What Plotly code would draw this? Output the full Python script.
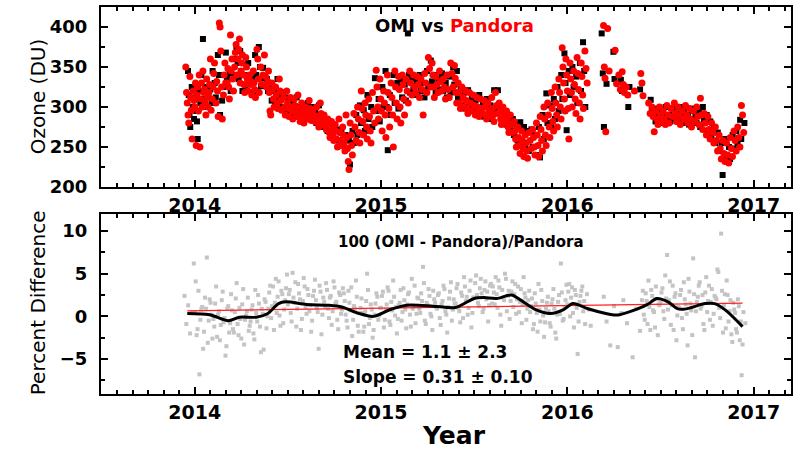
import plotly.graph_objects as go

# ---------------- data ----------------
pandora_t = [
 2013.952, 2013.956, 2013.960, 2013.964, 2013.968,
 2013.974, 2013.978, 2013.982, 2013.986,
 2013.992, 2013.996, 2014.000, 2014.004, 2014.008,
 2014.012, 2014.016, 2014.020, 2014.024, 2014.028,
 2014.032, 2014.036, 2014.040, 2014.044, 2014.048,
 2014.052, 2014.056, 2014.060, 2014.064, 2014.068,
 2014.072, 2014.076, 2014.080, 2014.084, 2014.088,
 2014.094, 2014.098, 2014.102, 2014.106,
 2014.114, 2014.118, 2014.122, 2014.126,
 2014.132, 2014.136, 2014.140, 2014.144, 2014.148,
 2014.154, 2014.158, 2014.162, 2014.166,
 2014.174, 2014.178, 2014.182, 2014.186,
 2014.192, 2014.196, 2014.200, 2014.204, 2014.208,
 2014.214, 2014.218, 2014.222, 2014.226,
 2014.232, 2014.236, 2014.240, 2014.244, 2014.248,
 2014.252, 2014.256, 2014.260, 2014.264, 2014.268,
 2014.274, 2014.278, 2014.282, 2014.286,
 2014.294, 2014.298, 2014.302, 2014.306,
 2014.314, 2014.318, 2014.322, 2014.326,
 2014.334, 2014.338, 2014.342, 2014.346,
 2014.354, 2014.360, 2014.366,
 2014.374, 2014.380, 2014.386,
 2014.392, 2014.396, 2014.400, 2014.404, 2014.408,
 2014.414, 2014.418, 2014.422, 2014.426,
 2014.434, 2014.438, 2014.442, 2014.446,
 2014.454, 2014.458, 2014.462, 2014.466,
 2014.474, 2014.478, 2014.482, 2014.486,
 2014.494, 2014.498, 2014.502, 2014.506,
 2014.514, 2014.518, 2014.522, 2014.526,
 2014.534, 2014.538, 2014.542, 2014.546,
 2014.554, 2014.558, 2014.562, 2014.566,
 2014.574, 2014.578, 2014.582, 2014.586,
 2014.594, 2014.600, 2014.606,
 2014.614, 2014.618, 2014.622, 2014.626,
 2014.634, 2014.640, 2014.646,
 2014.654, 2014.658, 2014.662, 2014.666,
 2014.674, 2014.678, 2014.682, 2014.686,
 2014.694, 2014.700, 2014.706,
 2014.714, 2014.718, 2014.722, 2014.726,
 2014.734, 2014.738, 2014.742, 2014.746,
 2014.754, 2014.758, 2014.762, 2014.766,
 2014.774, 2014.778, 2014.782, 2014.786,
 2014.794, 2014.798, 2014.802, 2014.806,
 2014.812, 2014.816, 2014.820, 2014.824, 2014.828,
 2014.834, 2014.838, 2014.842, 2014.846,
 2014.854, 2014.860, 2014.866,
 2014.874, 2014.878, 2014.882, 2014.886,
 2014.894, 2014.898, 2014.902, 2014.906,
 2014.914, 2014.918, 2014.922, 2014.926,
 2014.934, 2014.938, 2014.942, 2014.946,
 2014.954, 2014.960, 2014.966,
 2014.974, 2014.978, 2014.982, 2014.986,
 2014.994, 2014.998, 2015.002, 2015.006,
 2015.014, 2015.018, 2015.022, 2015.026,
 2015.034, 2015.038, 2015.042, 2015.046,
 2015.054, 2015.058, 2015.062, 2015.066,
 2015.074, 2015.078, 2015.082, 2015.086,
 2015.094, 2015.098, 2015.102, 2015.106,
 2015.114, 2015.118, 2015.122, 2015.126,
 2015.134, 2015.140, 2015.146,
 2015.154, 2015.160, 2015.166,
 2015.174, 2015.180, 2015.186,
 2015.194, 2015.200, 2015.206,
 2015.214, 2015.220, 2015.226,
 2015.234, 2015.240, 2015.246,
 2015.254, 2015.260, 2015.266,
 2015.274, 2015.278, 2015.282, 2015.286,
 2015.294, 2015.300, 2015.306,
 2015.314, 2015.320, 2015.326,
 2015.334, 2015.340, 2015.346,
 2015.354, 2015.360, 2015.366,
 2015.374, 2015.380, 2015.386,
 2015.394, 2015.398, 2015.402, 2015.406,
 2015.414, 2015.418, 2015.422, 2015.426,
 2015.434, 2015.440, 2015.446,
 2015.454, 2015.458, 2015.462, 2015.466,
 2015.474, 2015.480, 2015.486,
 2015.494, 2015.500, 2015.506,
 2015.514, 2015.518, 2015.522, 2015.526,
 2015.534, 2015.540, 2015.546,
 2015.554, 2015.558, 2015.562, 2015.566,
 2015.574, 2015.580, 2015.586,
 2015.594, 2015.598, 2015.602, 2015.606,
 2015.614, 2015.620, 2015.626,
 2015.634, 2015.638, 2015.642, 2015.646,
 2015.654, 2015.660, 2015.666,
 2015.674, 2015.678, 2015.682, 2015.686,
 2015.694, 2015.700, 2015.706,
 2015.714, 2015.718, 2015.722, 2015.726,
 2015.734, 2015.738, 2015.742, 2015.746,
 2015.754, 2015.758, 2015.762, 2015.766,
 2015.774, 2015.778, 2015.782, 2015.786,
 2015.794, 2015.800, 2015.806,
 2015.814, 2015.818, 2015.822, 2015.826,
 2015.834, 2015.838, 2015.842, 2015.846,
 2015.854, 2015.858, 2015.862, 2015.866,
 2015.874, 2015.878, 2015.882, 2015.886,
 2015.894, 2015.898, 2015.902, 2015.906,
 2015.914, 2015.918, 2015.922, 2015.926,
 2015.934, 2015.938, 2015.942, 2015.946,
 2015.954, 2015.958, 2015.962, 2015.966,
 2015.972, 2015.976, 2015.980, 2015.984, 2015.988,
 2015.992, 2015.996, 2016.000, 2016.004, 2016.008,
 2016.014, 2016.018, 2016.022, 2016.026,
 2016.034, 2016.038, 2016.042, 2016.046,
 2016.052, 2016.056, 2016.060, 2016.064, 2016.068,
 2016.074, 2016.078, 2016.082, 2016.086,
 2016.094, 2016.100, 2016.106,
 2016.194, 2016.198, 2016.202, 2016.206,
 2016.216, 2016.224,
 2016.256, 2016.264,
 2016.276, 2016.284,
 2016.294, 2016.300, 2016.306,
 2016.316, 2016.324,
 2016.360,
 2016.394, 2016.400, 2016.406,
 2016.436, 2016.444,
 2016.454, 2016.460, 2016.466,
 2016.474, 2016.480, 2016.486,
 2016.494, 2016.500, 2016.506,
 2016.514, 2016.520, 2016.526,
 2016.534, 2016.540, 2016.546,
 2016.556, 2016.564,
 2016.574, 2016.580, 2016.586,
 2016.594, 2016.600, 2016.606,
 2016.616, 2016.624,
 2016.634, 2016.640, 2016.646,
 2016.654, 2016.660, 2016.666,
 2016.676, 2016.684,
 2016.694, 2016.700, 2016.706,
 2016.714, 2016.720, 2016.726,
 2016.734, 2016.740, 2016.746,
 2016.754, 2016.760, 2016.766,
 2016.774, 2016.780, 2016.786,
 2016.794, 2016.800, 2016.806,
 2016.814, 2016.820, 2016.826,
 2016.834, 2016.840, 2016.846,
 2016.854, 2016.860, 2016.866,
 2016.874, 2016.880, 2016.886,
 2016.894, 2016.900, 2016.906,
 2016.914, 2016.920, 2016.926,
 2016.934, 2016.940, 2016.946,
]
pandora_du = [
 350, 318, 305, 290, 280,
 338, 312, 296, 260,
 320, 308, 300, 330, 252,
 315, 325, 295, 340, 250,
 310, 330, 300, 345, 318,
 322, 305, 290, 335, 312,
 300, 318, 328, 360, 296,
 310, 325, 342, 355,
 305, 332, 320, 288,
 405, 400, 370, 325, 285,
 315, 340, 355, 330,
 330, 348, 325, 310,
 390, 345, 360, 335, 320,
 350, 368, 378, 340,
 360, 372, 385, 330, 345,
 355, 365, 340, 328, 318,
 362, 350, 335, 320,
 340, 328, 332, 315,
 345, 330, 322, 312,
 372, 360, 335, 318,
 350, 328, 340,
 365, 338, 325,
 332, 345, 318, 295, 290,
 330, 322, 310, 300,
 325, 315, 305, 298,
 335, 320, 308, 296,
 318, 312, 300, 290,
 320, 305, 298, 288,
 312, 300, 295, 285,
 310, 302, 292, 288,
 315, 298, 290, 282,
 305, 296, 288, 280,
 300, 292, 285,
 308, 298, 290, 283,
 296, 290, 282,
 300, 288, 280, 275,
 305, 292, 285, 278,
 290, 282, 272,
 285, 278, 268, 262,
 282, 272, 265, 258,
 278, 270, 260, 250,
 285, 268, 258, 252,
 275, 265, 255, 245,
 290, 262, 248, 232, 222,
 280, 265, 252, 240,
 292, 275, 258,
 300, 285, 268, 255,
 320, 298, 282, 265,
 305, 290, 275, 260,
 310, 288, 270, 255,
 318, 295, 280,
 346, 325, 300, 285,
 335, 310, 295, 270,
 320, 305, 290, 262,
 340, 318, 298, 275,
 330, 312, 290, 250,
 345, 325, 305, 285,
 338, 322, 300, 280,
 340, 328, 310, 290,
 335, 320, 305,
 345, 330, 315,
 340, 325, 318,
 338, 328, 312,
 335, 322, 290,
 342, 330, 318,
 362, 348, 325,
 355, 340, 325, 312,
 338, 328, 318,
 345, 332, 320,
 335, 325, 310,
 340, 322, 312,
 355, 342, 325,
 352, 336, 318, 305,
 330, 318, 305, 298,
 325, 312, 300,
 320, 308, 298, 292,
 318, 305, 295,
 315, 302, 290,
 312, 300, 295, 288,
 310, 298, 292,
 308, 300, 290, 285,
 305, 296, 288,
 312, 298, 290, 282,
 318, 302, 292,
 305, 295, 285, 278,
 300, 290, 280,
 295, 285, 275, 268,
 290, 278, 268,
 282, 270, 260, 250,
 275, 262, 252, 242,
 270, 258, 248, 238,
 265, 255, 245, 236,
 268, 258, 248,
 272, 262, 250, 240,
 280, 265, 252, 238,
 288, 272, 258, 245,
 300, 285, 265, 252,
 305, 290, 275, 262,
 318, 298, 282, 270,
 325, 305, 290, 275,
 335, 318, 300, 285,
 374, 350, 330, 310, 295,
 360, 340, 320, 298, 260,
 355, 335, 318, 300,
 345, 328, 310, 292,
 362, 342, 322, 305, 285,
 355, 338, 315, 298,
 370, 348, 330,
 402, 350, 336, 269,
 398, 345,
 371, 329,
 340, 322,
 344, 328, 318,
 325, 315,
 320,
 342, 330, 314,
 305, 292,
 300, 288, 269,
 295, 285, 278,
 300, 290, 282,
 295, 285, 278,
 302, 290, 280,
 298, 288,
 305, 292, 282,
 300, 288, 278,
 295, 285,
 302, 290, 280,
 298, 285, 275,
 295, 282,
 300, 288, 278,
 311, 290, 272,
 292, 280, 265,
 288, 272, 260,
 280, 268, 255,
 275, 258, 245,
 265, 248, 235,
 258, 242, 232,
 255, 240, 230,
 262, 248, 238,
 270, 258, 245,
 275, 262, 250,
 302, 290, 268,
]

omi_t = [
 2013.964, 2013.968, 2013.972, 2013.976,
 2013.984, 2013.990, 2013.996,
 2014.004, 2014.008, 2014.012, 2014.016,
 2014.024, 2014.030, 2014.036,
 2014.044, 2014.050, 2014.056,
 2014.067, 2014.073,
 2014.084, 2014.090, 2014.096,
 2014.107, 2014.113,
 2014.124, 2014.130, 2014.136,
 2014.147, 2014.153,
 2014.167, 2014.173,
 2014.187, 2014.193,
 2014.207, 2014.213,
 2014.224, 2014.230, 2014.236,
 2014.244, 2014.250, 2014.256,
 2014.267, 2014.273,
 2014.287, 2014.293,
 2014.307, 2014.313,
 2014.324, 2014.330, 2014.336,
 2014.344, 2014.350, 2014.356,
 2014.367, 2014.373,
 2014.387, 2014.393,
 2014.407, 2014.413,
 2014.427, 2014.433,
 2014.444, 2014.450, 2014.456,
 2014.467, 2014.473,
 2014.487, 2014.493,
 2014.507, 2014.513,
 2014.527, 2014.533,
 2014.547, 2014.553,
 2014.567, 2014.573,
 2014.587, 2014.593,
 2014.607, 2014.613,
 2014.627, 2014.633,
 2014.647, 2014.653,
 2014.667, 2014.673,
 2014.687, 2014.693,
 2014.707, 2014.713,
 2014.727, 2014.733,
 2014.747, 2014.753,
 2014.767, 2014.773,
 2014.787, 2014.793,
 2014.807, 2014.813,
 2014.827, 2014.833,
 2014.847, 2014.853,
 2014.867, 2014.873,
 2014.887, 2014.893,
 2014.907, 2014.913,
 2014.927, 2014.933,
 2014.947, 2014.953,
 2014.967, 2014.973,
 2014.987, 2014.993,
 2015.007, 2015.013,
 2015.024, 2015.030, 2015.036,
 2015.047, 2015.053,
 2015.067, 2015.073,
 2015.087, 2015.093,
 2015.107, 2015.113,
 2015.127, 2015.133,
 2015.144, 2015.150, 2015.156,
 2015.167, 2015.173,
 2015.187, 2015.193,
 2015.207, 2015.213,
 2015.227, 2015.233,
 2015.247, 2015.253,
 2015.267, 2015.273,
 2015.287, 2015.293,
 2015.307, 2015.313,
 2015.327, 2015.333,
 2015.347, 2015.353,
 2015.367, 2015.373,
 2015.387, 2015.393,
 2015.407, 2015.413,
 2015.427, 2015.433,
 2015.447, 2015.453,
 2015.467, 2015.473,
 2015.487, 2015.493,
 2015.507, 2015.513,
 2015.527, 2015.533,
 2015.547, 2015.553,
 2015.567, 2015.573,
 2015.587, 2015.593,
 2015.607, 2015.613,
 2015.627, 2015.633,
 2015.647, 2015.653,
 2015.667, 2015.673,
 2015.687, 2015.693,
 2015.707, 2015.713,
 2015.727, 2015.733,
 2015.747, 2015.753,
 2015.767, 2015.773,
 2015.787, 2015.793,
 2015.807, 2015.813,
 2015.827, 2015.833,
 2015.847, 2015.853,
 2015.867, 2015.873,
 2015.887, 2015.893,
 2015.907, 2015.913,
 2015.927, 2015.933,
 2015.947, 2015.953,
 2015.967, 2015.973,
 2015.984, 2015.990, 2015.996,
 2016.007, 2016.013,
 2016.027, 2016.033,
 2016.047, 2016.053,
 2016.067, 2016.073,
 2016.084, 2016.090, 2016.096,
 2016.184, 2016.190, 2016.196,
 2016.210,
 2016.247, 2016.253,
 2016.287, 2016.293,
 2016.327, 2016.333,
 2016.390,
 2016.447, 2016.453,
 2016.467, 2016.473,
 2016.487, 2016.493,
 2016.507, 2016.513,
 2016.527, 2016.533,
 2016.547, 2016.553,
 2016.567, 2016.573,
 2016.587, 2016.593,
 2016.607, 2016.613,
 2016.627, 2016.633,
 2016.647, 2016.653,
 2016.667, 2016.673,
 2016.687, 2016.693,
 2016.707, 2016.713,
 2016.727, 2016.733,
 2016.747, 2016.753,
 2016.767, 2016.773,
 2016.787, 2016.793,
 2016.807, 2016.813,
 2016.827, 2016.833,
 2016.847, 2016.853,
 2016.867, 2016.873,
 2016.887, 2016.893,
 2016.907, 2016.913,
 2016.927, 2016.933,
 2016.950,
]
omi_du = [
 345, 315, 290, 275,
 325, 300, 285,
 312, 295, 282, 260,
 320, 305, 340,
 385, 310, 325,
 300, 315,
 322, 305, 345,
 330, 312,
 365, 340, 290,
 308, 325,
 368, 335,
 342, 320,
 360, 340,
 372, 355, 335,
 370, 345, 320,
 340, 322,
 355, 330,
 335, 318,
 365, 340, 320,
 375, 350, 326,
 349, 336,
 335, 320,
 325, 308,
 320, 305,
 335, 312, 298,
 315, 300,
 312, 295,
 308, 298,
 305, 292,
 312, 295,
 300, 290,
 298, 288,
 305, 285,
 300, 288,
 295, 280,
 302, 288,
 290, 275,
 285, 270,
 280, 265,
 275, 260,
 272, 258,
 268, 252,
 265, 248,
 258, 228,
 270, 255,
 290, 265,
 302, 280,
 296, 270,
 315, 285,
 300, 275,
 336, 295,
 310, 282,
 325, 300,
 345, 300, 246,
 315, 290,
 340, 305,
 330, 298,
 335, 312,
 328, 308,
 392, 340, 318,
 335, 322,
 332, 315,
 340, 320,
 330, 312,
 345, 325,
 358, 332,
 340, 318,
 335, 322,
 342, 320,
 330, 312,
 338, 318,
 350, 328,
 345, 312,
 325, 302,
 318, 298,
 321, 300,
 312, 295,
 308, 292,
 315, 298,
 305, 288,
 310, 290,
 302, 285,
 321, 295,
 321, 298,
 300, 282,
 295, 278,
 288, 272,
 285, 265,
 278, 258,
 281, 252,
 275, 248,
 270, 245,
 272, 250,
 265, 240,
 275, 237,
 290, 260,
 317, 280,
 302, 275,
 310, 285,
 325, 295,
 340, 310,
 367, 330, 271,
 345, 315,
 350, 325,
 338, 305,
 355, 320,
 381, 345, 300,
 392, 342, 275,
 329,
 369, 335,
 334, 320,
 300, 325,
 322,
 309, 295,
 290, 282,
 298, 288,
 292, 280,
 300, 287,
 290, 282,
 298, 285,
 292, 282,
 300, 288,
 295, 280,
 290, 278,
 298, 285,
 292, 280,
 295, 275,
 300, 285,
 290, 270,
 282, 262,
 275, 255,
 268, 245,
 255, 215,
 260, 238,
 250, 235,
 265, 248,
 270, 255,
 284, 260,
 280,
]

diff_t = [
 2013.945, 2013.955, 2013.965, 2013.975, 2013.985, 2013.995,
 2014.005, 2014.015, 2014.025, 2014.035, 2014.045, 2014.055, 2014.065, 2014.075, 2014.085, 2014.095,
 2014.105, 2014.115, 2014.125, 2014.135, 2014.145, 2014.155, 2014.165, 2014.175, 2014.185, 2014.195,
 2014.205, 2014.215, 2014.225, 2014.235, 2014.245, 2014.255, 2014.265, 2014.275, 2014.285, 2014.295,
 2014.305, 2014.315, 2014.325, 2014.335, 2014.345, 2014.355, 2014.365, 2014.375, 2014.385, 2014.395,
 2014.405, 2014.415, 2014.425, 2014.435, 2014.445, 2014.455, 2014.465, 2014.475, 2014.485, 2014.495,
 2014.505, 2014.515, 2014.525, 2014.535, 2014.545, 2014.555, 2014.565, 2014.575, 2014.585, 2014.595,
 2014.605, 2014.615, 2014.625, 2014.635, 2014.645, 2014.655, 2014.665, 2014.675, 2014.685, 2014.695,
 2014.705, 2014.715, 2014.725, 2014.735, 2014.745, 2014.755, 2014.765, 2014.775, 2014.785, 2014.795,
 2014.805, 2014.815, 2014.825, 2014.835, 2014.845, 2014.855, 2014.865, 2014.875, 2014.885, 2014.895,
 2014.905, 2014.915, 2014.925, 2014.935, 2014.945, 2014.955, 2014.965, 2014.975, 2014.985, 2014.995,
 2015.005, 2015.015, 2015.025, 2015.035, 2015.045, 2015.055, 2015.065, 2015.075, 2015.085, 2015.095,
 2015.105, 2015.115, 2015.125, 2015.135, 2015.145, 2015.155, 2015.165, 2015.175, 2015.185, 2015.195,
 2015.205, 2015.215, 2015.225, 2015.235, 2015.245, 2015.255, 2015.265, 2015.275, 2015.285, 2015.295,
 2015.305, 2015.315, 2015.325, 2015.335, 2015.345, 2015.355, 2015.365, 2015.375, 2015.385, 2015.395,
 2015.405, 2015.415, 2015.425, 2015.435, 2015.445, 2015.455, 2015.465, 2015.475, 2015.485, 2015.495,
 2015.505, 2015.515, 2015.525, 2015.535, 2015.545, 2015.555, 2015.565, 2015.575, 2015.585, 2015.595,
 2015.605, 2015.615, 2015.625, 2015.635, 2015.645, 2015.655, 2015.665, 2015.675, 2015.685, 2015.695,
 2015.705, 2015.715, 2015.725, 2015.735, 2015.745, 2015.755, 2015.765, 2015.775, 2015.785, 2015.795,
 2015.805, 2015.815, 2015.825, 2015.835, 2015.845, 2015.855, 2015.865, 2015.875, 2015.885, 2015.895,
 2015.905, 2015.915, 2015.925, 2015.935, 2015.945, 2015.955, 2015.965, 2015.975, 2015.985, 2015.995,
 2016.005, 2016.015, 2016.025, 2016.035, 2016.045, 2016.055, 2016.065, 2016.075, 2016.085, 2016.095,
 2016.105, 2016.115, 2016.125,
 2016.195, 2016.210, 2016.230, 2016.250, 2016.270, 2016.290,
 2016.300, 2016.320, 2016.350, 2016.370, 2016.390,
 2016.405, 2016.415, 2016.425, 2016.435, 2016.445, 2016.455, 2016.465, 2016.475, 2016.485, 2016.495,
 2016.505, 2016.515, 2016.525, 2016.535, 2016.545, 2016.555, 2016.565, 2016.575, 2016.585, 2016.595,
 2016.605, 2016.615, 2016.625, 2016.635, 2016.645, 2016.655, 2016.665, 2016.675, 2016.685, 2016.695,
 2016.705, 2016.715, 2016.725, 2016.735, 2016.745, 2016.755, 2016.765, 2016.775, 2016.785, 2016.795,
 2016.805, 2016.815, 2016.825, 2016.835, 2016.845, 2016.855, 2016.865, 2016.875, 2016.885, 2016.895,
 2016.905, 2016.915, 2016.925, 2016.935, 2016.945, 2016.955,
]
diff_v = [
 2.4, -0.9, 1.3, -2.0, 0.4, 6.2,
 4.1, -1.5, -6.8, 0.8, -3.8, 2.2, 6.9, -0.5, 1.6, -2.6,
 -1.2, 3.5, 0.2, -2.8, 1.9, -0.7, -4.6, 0.9, -1.9, 2.6,
 -1.5, 0.5, 3.9, -2.2, -0.3, 1.4, -3.3, 0.1, 2.2, -1.1,
 0.8, -2.0, 3.1, -0.6, 1.5, -4.2, 0.3, 2.0, -1.4, 0.9,
 3.6, 1.2, -1.6, 4.4, 2.3, 0.1, 3.0, -0.8, 1.9, 4.9,
 2.6, 0.4, 5.1, 1.6, -1.2, 3.8, 2.0, -0.3, 4.5, 1.1,
 3.2, 0.6, -1.8, 2.4, 4.3, 1.0, -3.8, 2.9, 0.2, 1.7,
 3.9, 0.9, 2.2, -1.0, 4.1, 1.5, -0.4, 2.8, 0.3, 3.3,
 1.8, -0.5, 3.0, 0.7, -2.3, 1.2, 4.2, -1.1, 0.4, 2.1,
 -1.8, 0.6, 5.0, -0.9, 1.4, -2.5, 0.2, 2.7, -0.4, 1.0,
 2.4, -1.3, 0.8, 3.4, -0.6, 1.7, 4.2, 0.1, -2.0, 1.3,
 3.1, 0.5, 1.9, -1.4, 2.6, 0.2, 4.4, 1.2, -0.8, 2.2,
 0.9, 2.7, 5.8, -0.5, 1.6, 3.2, 0.3, -1.6, 2.0, 1.1,
 2.5, -0.2, 1.4, 3.6, 0.6, -1.9, 2.1, 4.0, 0.8, 1.5,
 3.3, 1.0, -0.7, 2.4, 4.6, 1.8, 0.2, 3.0, -1.3, 2.2,
 3.9, 2.5, 1.2, 4.4, 0.5, 3.1, 2.0, -0.6, 3.6, 1.5,
 2.8, 4.6, 1.0, 3.4, -1.1, 2.2, 5.0, 0.6, 3.0, 1.8,
 4.1, 2.6, 0.3, 3.5, 1.7, -0.8, 4.6, 2.2, 0.9, 3.0,
 1.2, -1.5, 2.7, 0.4, 3.8, -0.6, 1.8, -2.4, 0.9, 2.3,
 -0.8, 1.5, 3.2, -1.9, 0.2, 2.5, 6.2, -0.5, 1.1, 3.7,
 2.9, 0.0, 3.4, -1.3, 2.5, -4.4, 1.7, 3.0, 0.6, -0.9,
 2.6, 0.8, -1.1,
 2.3, -0.6, -3.4, 1.2, -3.6, 0.4,
 1.9, -0.8, -4.8, 0.9, -1.7,
 3.0, -0.4, 1.8, 4.2, -1.6, 2.4, 0.5, 3.5, -2.2, 1.3,
 2.8, 0.6, 4.8, 7.2, 1.9, -1.0, 3.6, 2.3, -2.8, 1.1,
 2.5, -0.2, 4.0, 1.4, -3.4, 2.9, 0.7, 6.8, -4.8, 1.7,
 3.6, 0.9, 2.5, -1.6, 4.6, 1.8, -0.4, 3.2, 0.3, 2.2,
 5.5, 1.0, 9.7, -1.9, 2.6, 4.2, -0.6, 1.9, -3.0, 0.8,
 -1.5, 2.0, -2.8, -6.9, 0.5, -0.8,
]

# second batch of difference points (denser sampling)
diff_t2 = [
 2014.000, 2014.010, 2014.020, 2014.030, 2014.040, 2014.050, 2014.060, 2014.070, 2014.080, 2014.090,
 2014.100, 2014.110, 2014.120, 2014.130, 2014.140, 2014.150, 2014.160, 2014.170, 2014.180, 2014.190,
 2014.200, 2014.210, 2014.220, 2014.230, 2014.240, 2014.250, 2014.260, 2014.270, 2014.280, 2014.290,
 2014.300, 2014.310, 2014.320, 2014.330, 2014.340, 2014.350, 2014.360, 2014.370, 2014.380, 2014.390,
 2014.400, 2014.410, 2014.420, 2014.430, 2014.440, 2014.450, 2014.460, 2014.470, 2014.480, 2014.490,
 2014.500, 2014.510, 2014.520, 2014.530, 2014.540, 2014.550, 2014.560, 2014.570, 2014.580, 2014.590,
 2014.600, 2014.610, 2014.620, 2014.630, 2014.640, 2014.650, 2014.660, 2014.670, 2014.680, 2014.690,
 2014.700, 2014.710, 2014.720, 2014.730, 2014.740, 2014.750, 2014.760, 2014.770, 2014.780, 2014.790,
 2014.800, 2014.810, 2014.820, 2014.830, 2014.840, 2014.850, 2014.860, 2014.870, 2014.880, 2014.890,
 2014.900, 2014.910, 2014.920, 2014.930, 2014.940, 2014.950, 2014.960, 2014.970, 2014.980, 2014.990,
 2015.000, 2015.010, 2015.020, 2015.030, 2015.040, 2015.050, 2015.060, 2015.070, 2015.080, 2015.090,
 2015.100, 2015.110, 2015.120, 2015.130, 2015.140, 2015.150, 2015.160, 2015.170, 2015.180, 2015.190,
 2015.200, 2015.210, 2015.220, 2015.230, 2015.240, 2015.250, 2015.260, 2015.270, 2015.280, 2015.290,
 2015.300, 2015.310, 2015.320, 2015.330, 2015.340, 2015.350, 2015.360, 2015.370, 2015.380, 2015.390,
 2015.400, 2015.410, 2015.420, 2015.430, 2015.440, 2015.450, 2015.460, 2015.470, 2015.480, 2015.490,
 2015.500, 2015.510, 2015.520, 2015.530, 2015.540, 2015.550, 2015.560, 2015.570, 2015.580, 2015.590,
 2015.600, 2015.610, 2015.620, 2015.630, 2015.640, 2015.650, 2015.660, 2015.670, 2015.680, 2015.690,
 2015.700, 2015.710, 2015.720, 2015.730, 2015.740, 2015.750, 2015.760, 2015.770, 2015.780, 2015.790,
 2015.800, 2015.810, 2015.820, 2015.830, 2015.840, 2015.850, 2015.860, 2015.870, 2015.880, 2015.890,
 2015.900, 2015.910, 2015.920, 2015.930, 2015.940, 2015.950, 2015.960, 2015.970, 2015.980, 2015.990,
 2016.000, 2016.010, 2016.020, 2016.030, 2016.040, 2016.050, 2016.060, 2016.070, 2016.080, 2016.090,
 2016.400, 2016.410, 2016.420, 2016.430, 2016.440, 2016.450, 2016.460, 2016.470, 2016.480, 2016.490,
 2016.500, 2016.510, 2016.520, 2016.530, 2016.540, 2016.550, 2016.560, 2016.570, 2016.580, 2016.590,
 2016.600, 2016.610, 2016.620, 2016.630, 2016.640, 2016.650, 2016.660, 2016.670, 2016.680, 2016.690,
 2016.700, 2016.710, 2016.720, 2016.730, 2016.740, 2016.750, 2016.760, 2016.770, 2016.780, 2016.790,
 2016.800, 2016.810, 2016.820, 2016.830, 2016.840, 2016.850, 2016.860, 2016.870, 2016.880, 2016.890,
 2016.900, 2016.910, 2016.920, 2016.930, 2016.940,
]
diff_v2 = [
 0.5, -2.2, 3.0, -0.4, 1.1, -1.8, 0.9, -3.1, 2.0, 0.2,
 -0.3, 1.5, -2.4, 0.6, -1.0, 2.9, -0.2, -3.5, 1.2, -0.8,
 0.7, -1.9, 2.1, -0.9, 1.0, -2.6, 3.2, -0.4, 0.6, -1.7,
 -0.6, 1.3, -2.7, 0.4, 2.5, -1.2, 0.9, -3.9, 1.7, 0.0,
 2.8, -0.2, 3.5, 1.6, 0.4, 4.1, -1.1, 2.6, 0.8, 3.3,
 1.4, 3.1, -0.6, 2.2, 4.0, 0.9, 2.7, -1.6, 1.8, 3.5,
 0.3, 2.5, 1.3, -0.5, 3.0, 1.9, 0.5, 3.6, -2.1, 2.2,
 1.2, 3.1, -0.2, 2.4, 0.6, 3.4, 1.7, -1.5, 2.5, 0.8,
 2.7, 0.2, -1.3, 1.6, 3.4, -0.4, 0.9, 2.3, -1.8, 1.0,
 0.4, -1.2, 1.8, 3.1, -0.2, 0.8, -1.6, 1.5, 2.3, 0.1,
 1.0, 2.9, -0.4, 1.4, 3.0, -1.0, 0.7, 2.3, 1.1, -0.3,
 1.6, -0.5, 3.3, 0.8, 1.4, 2.8, -1.2, 0.9, 3.6, 0.3,
 2.1, 0.4, 1.8, 3.9, -0.9, 1.3, 2.4, 0.0, 3.0, 1.6,
 0.9, 2.7, -1.0, 1.8, 3.2, 0.2, 1.1, 2.9, -0.5, 2.0,
 1.5, 3.8, 0.6, 2.8, -0.2, 3.5, 2.3, 1.0, 4.2, 0.4,
 2.2, 4.8, 1.6, 3.3, 2.7, 0.9, 4.1, 2.9, 1.3, 3.8,
 3.5, 1.4, 2.6, 4.2, 0.2, 3.1, 1.9, 4.4, 2.4, -0.3,
 2.9, 1.1, 3.8, 2.0, 0.5, 3.2, 1.4, 2.7, -0.4, 1.9,
 0.5, 2.1, -0.9, 1.5, -1.8, 0.8, 3.1, 0.1, -0.7, 1.6,
 0.6, -1.2, 2.0, 0.9, -2.6, 1.7, 0.3, 2.8, -0.3, 1.9,
 1.4, 3.8, 2.2, 0.4, 3.1, 1.0, -0.6, 2.4, 3.5, 1.8,
 1.9, 0.2, 2.7, -0.9, 1.1, 3.1, 0.7, -1.3, 2.0, 1.4,
 1.6, 3.3, -0.3, 2.1, 0.8, 4.1, 1.3, -1.6, 2.7, 0.1,
 1.0, 3.1, -1.5, 2.0, 0.3, 4.4, 1.5, -2.2, 2.6, 0.6,
 2.3, 4.0, 1.2, -0.9, 2.8, 0.5, 3.6, 1.7, -1.1, 2.4,
 2.0, 5.2, -0.2, 3.0, 1.3, -1.4, 2.5, 0.6, -2.1, 1.6,
 0.4, -1.9, 1.2, -0.6, -3.3,
]

smooth_t = [2013.96, 2014.08, 2014.18, 2014.24, 2014.33, 2014.39, 2014.45, 2014.49,
            2014.60, 2014.72, 2014.79, 2014.88, 2014.96, 2015.05, 2015.14, 2015.28,
            2015.40, 2015.50, 2015.55, 2015.62, 2015.70, 2015.75, 2015.83, 2015.91,
            2015.98, 2016.03, 2016.11, 2016.24, 2016.28, 2016.38, 2016.43, 2016.48,
            2016.54, 2016.59, 2016.63, 2016.74, 2016.79, 2016.85, 2016.94]
smooth_v = [0.35, 0.2, -0.5, -0.1, -0.1, 0.3, 1.5, 1.7,
            1.4, 1.3, 1.1, 0.35, 0.0, 0.8, 1.3, 1.2,
            1.05, 2.1, 2.2, 2.1, 2.5, 1.9, 0.8, 0.35,
            0.8, 1.5, 0.9, 0.2, 0.2, 0.9, 1.4, 2.1,
            1.7, 0.9, 0.85, 1.5, 1.5, 0.7, -1.2]

fit_t = [2013.96, 2016.94]
fit_v = [0.64, 1.56]

year_ticks = [2014, 2015, 2016, 2017]
ozone_ticks = [200, 250, 300, 350, 400]
pct_ticks = [-5, 0, 5, 10]

assert len(pandora_t) == len(pandora_du), (len(pandora_t), len(pandora_du))
assert len(omi_t) == len(omi_du), (len(omi_t), len(omi_du))
assert len(diff_t) == len(diff_v), (len(diff_t), len(diff_v))
assert len(diff_t2) == len(diff_v2), (len(diff_t2), len(diff_v2))

# ---------------- figure ----------------
FONT = "DejaVu Sans"
fig = go.Figure()

fig.add_trace(go.Scatter(x=omi_t, y=omi_du, mode="markers", xaxis="x", yaxis="y",
                         marker=dict(symbol="square", size=6, color="black"),
                         showlegend=False))
fig.add_trace(go.Scatter(x=pandora_t, y=pandora_du, mode="markers", xaxis="x", yaxis="y",
                         marker=dict(symbol="circle", size=7, color="#ff0000"),
                         showlegend=False))

fig.add_trace(go.Scatter(x=diff_t + diff_t2, y=diff_v + diff_v2, mode="markers",
                         xaxis="x2", yaxis="y2",
                         marker=dict(symbol="square", size=4, color="#c4c4c4"),
                         showlegend=False))
fig.add_trace(go.Scatter(x=fit_t, y=fit_v, mode="lines", xaxis="x2", yaxis="y2",
                         line=dict(color="#ff2020", width=1.2), showlegend=False))
fig.add_trace(go.Scatter(x=smooth_t, y=smooth_v, mode="lines", xaxis="x2", yaxis="y2",
                         line=dict(color="black", width=3, shape="spline", smoothing=0.8),
                         showlegend=False))

xr = [2013.497, 2017.2]
common_x = dict(range=xr, tickmode="array", tickvals=year_ticks,
                ticktext=[str(v) for v in year_ticks],
                ticks="inside", ticklen=7, tickwidth=2, tickcolor="black",
                showline=True, linewidth=2, linecolor="black", mirror="ticks",
                showgrid=False, zeroline=False,
                tickfont=dict(family=FONT, size=19, color="black", weight="bold"),
                minor=dict(ticks="inside", dtick=1/12, tick0=2014, ticklen=4,
                           tickwidth=1.5, tickcolor="black", showgrid=False),
                ticklabelstandoff=0)
common_y = dict(ticks="inside", ticklen=7, tickwidth=2, tickcolor="black",
                showline=True, linewidth=2, linecolor="black", mirror="ticks",
                showgrid=False, zeroline=False,
                tickfont=dict(family=FONT, size=18, color="black", weight="bold"),
                ticklabelstandoff=8)

fig.update_layout(
    width=796, height=454,
    margin=dict(l=101, r=3, t=7, b=60),
    paper_bgcolor="white", plot_bgcolor="white",
    xaxis=dict(domain=[0, 1], anchor="y", **common_x),
    xaxis2=dict(domain=[0, 1], anchor="y2", **common_x),
    yaxis=dict(domain=[0.5349, 1], anchor="x", range=[200, 425],
               tickmode="array", tickvals=ozone_ticks,
               minor=dict(ticks="inside", dtick=25, tick0=200, ticklen=4,
                          tickwidth=1.5, tickcolor="black", showgrid=False),
               **common_y),
    yaxis2=dict(domain=[0, 0.4651], anchor="x2", range=[-9.1, 12],
                tickmode="array", tickvals=pct_ticks,
                minor=dict(ticks="inside", dtick=2.5, tick0=0, ticklen=4,
                           tickwidth=1.5, tickcolor="black", showgrid=False),
                **common_y),
)

ann = []
ann.append(dict(text="Ozone (DU)", x=-0.091, y=0.7674, xref="paper", yref="paper",
                textangle=-90, showarrow=False, xanchor="center", yanchor="middle",
                font=dict(family=FONT, size=20, color="black")))
ann.append(dict(text="Percent Difference", x=-0.091, y=0.2351, xref="paper", yref="paper",
                textangle=-90, showarrow=False, xanchor="center", yanchor="middle",
                font=dict(family=FONT, size=20, color="black")))
ann.append(dict(text="<b>Year</b>", x=0.5116, y=-0.108, xref="paper", yref="paper",
                showarrow=False, xanchor="center", yanchor="middle",
                font=dict(family=FONT, size=25, color="black")))
ann.append(dict(text='<b>OMI vs <span style="color:#ff0000">Pandora</span></b>',
                x=0.5116, y=0.951, xref="paper", yref="paper",
                showarrow=False, xanchor="center", yanchor="middle",
                font=dict(family=FONT, size=18, color="black")))
ann.append(dict(text="<b>100 (OMI - Pandora)/Pandora</b>",
                x=0.5217, y=0.3928, xref="paper", yref="paper",
                showarrow=False, xanchor="center", yanchor="middle",
                font=dict(family=FONT, size=15, color="black")))
ann.append(dict(text="<b>Mean = 1.1 \u00b1 2.3</b>",
                x=0.3483, y=0.1085, xref="paper", yref="paper",
                showarrow=False, xanchor="left", yanchor="middle",
                font=dict(family=FONT, size=17, color="black")))
ann.append(dict(text="<b>Slope = 0.31 \u00b1 0.10</b>",
                x=0.3483, y=0.0439, xref="paper", yref="paper",
                showarrow=False, xanchor="left", yanchor="middle",
                font=dict(family=FONT, size=17, color="black")))
fig.update_layout(annotations=ann)

fig.write_html("out.html")
